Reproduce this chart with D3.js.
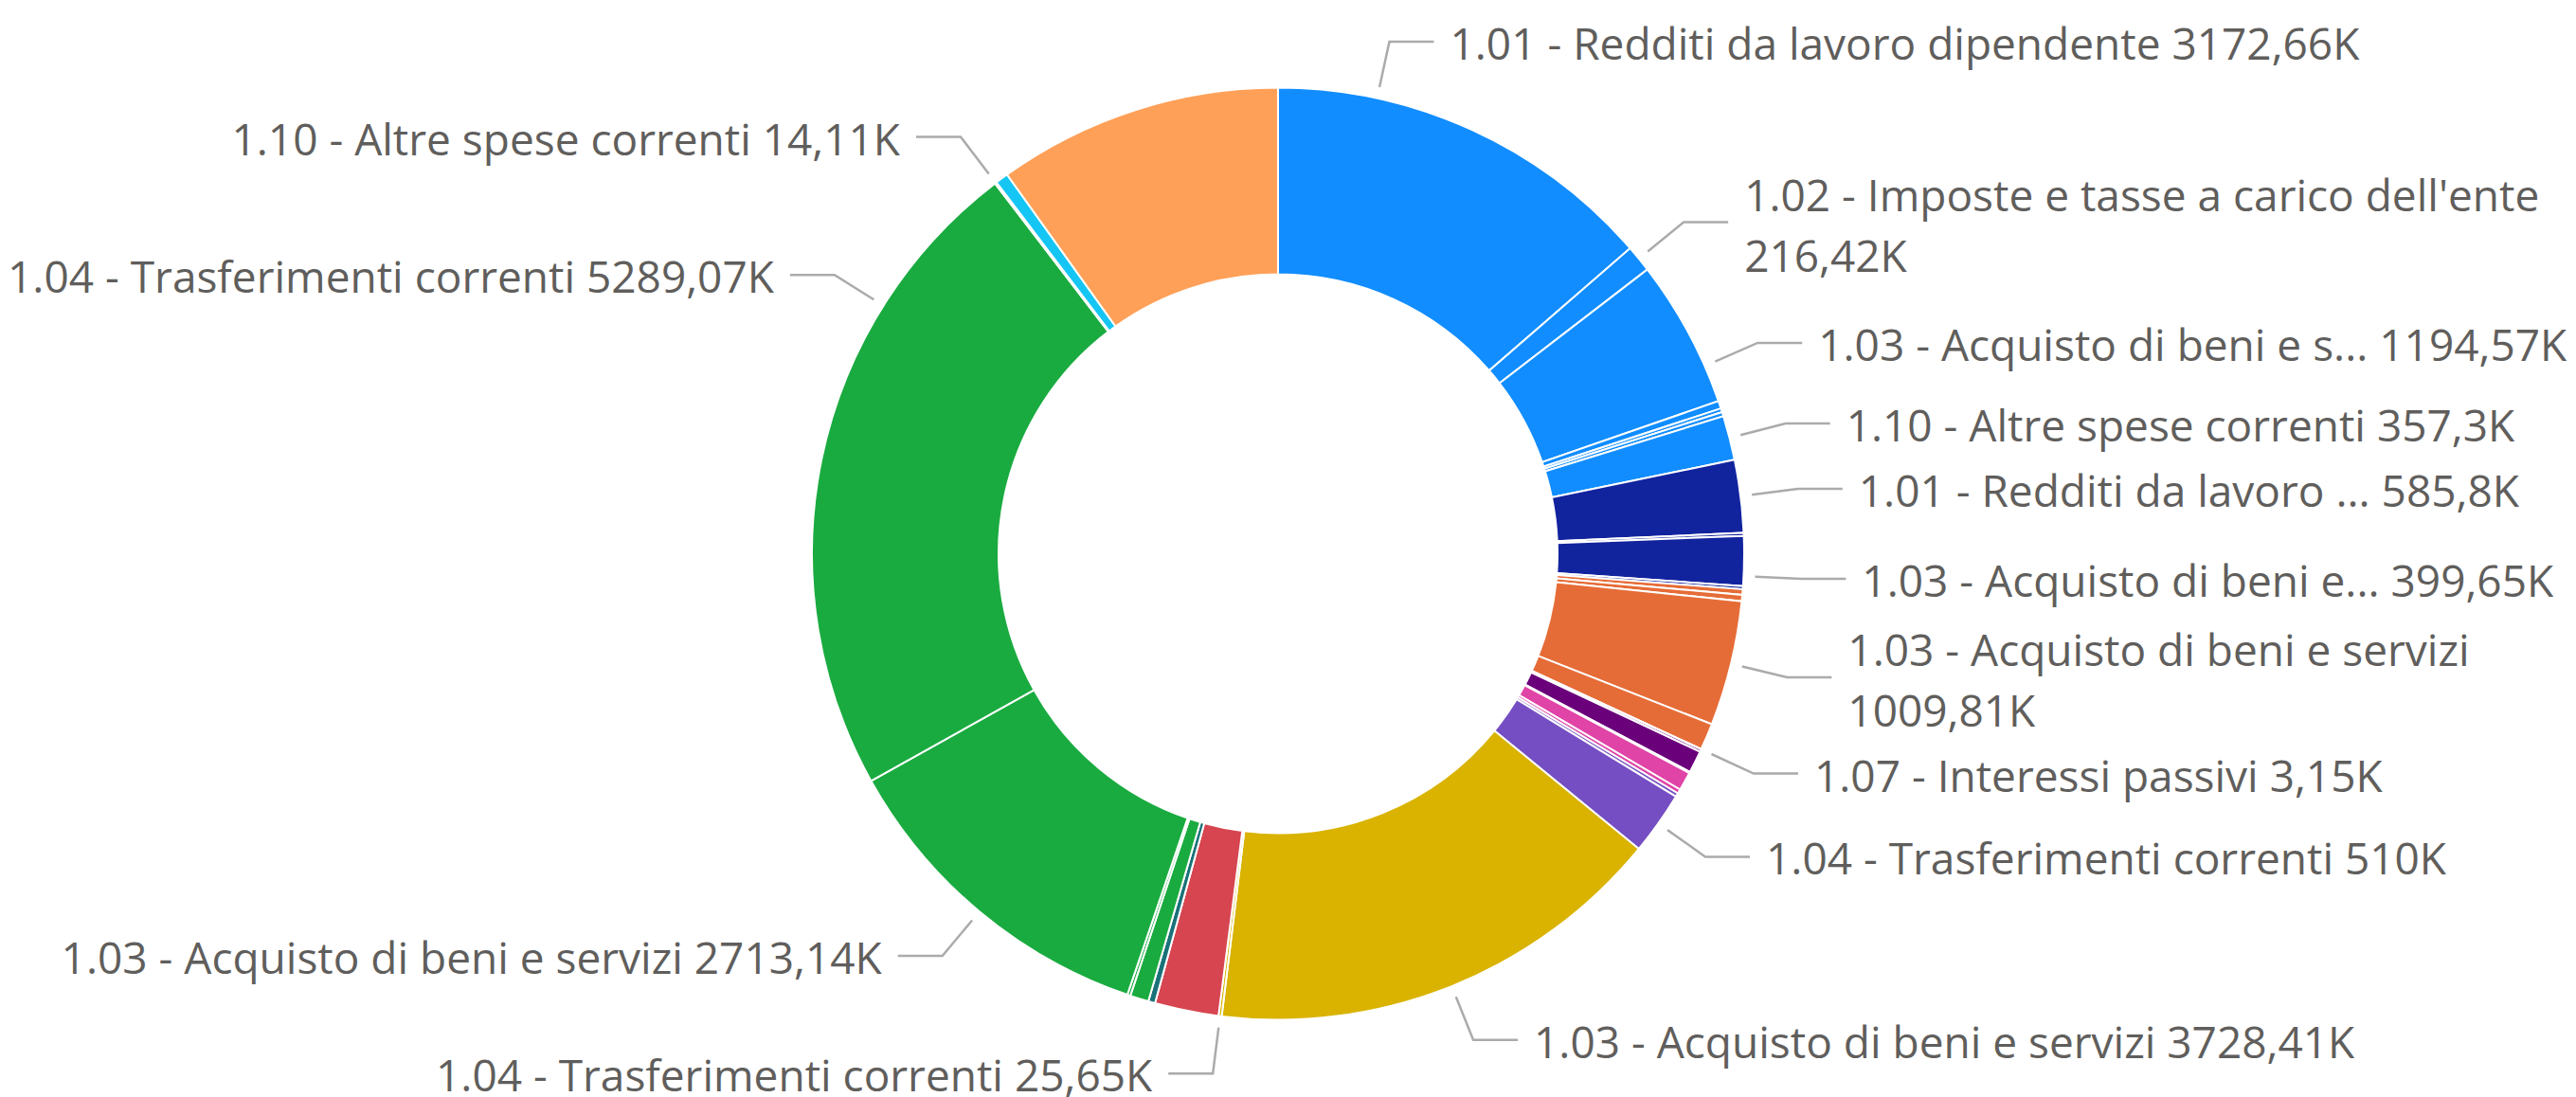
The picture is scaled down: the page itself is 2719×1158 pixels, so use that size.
<html>
<script src="https://cdn.jsdelivr.net/npm/d3@7"></script>
<style>
  body { margin: 0; background: white; }
  .lbl { font-family: "Open Sans", sans-serif; fill: #605E5C; }
  .leader { fill: none; stroke: #ABABAB; stroke-width: 2.5; }
</style>
<body>
<svg id="chart" width="2719" height="1158"></svg>
<script>
// slice values in K, in drawing order (clockwise from the top)
const values = [
  3172.66, 216.42, 1194.57, 62, 30, 35, 357.3,       // blue
  585.8, 25, 399.65, 25,                               // navy
  45, 50, 1009.81, 215, 3.15,                          // orange
  20, 180, 10,                                         // dark purple
  150, 35,                                             // pink
  30, 510,                                             // violet
  3728.41, 25.65,                                      // yellow
  515,                                                 // red
  55,                                                  // teal
  150, 25, 2713.14, 5289.07, 14.11,                    // green
  105,                                                 // cyan
  2299                                                 // light orange
];
// colour group of every slice
const groups = [
  0, 0, 0, 0, 0, 0, 0,
  1, 1, 1, 1,
  2, 2, 2, 2, 2,
  3, 3, 3,
  4, 4,
  5, 5,
  6, 6,
  7,
  8,
  9, 9, 9, 9, 9,
  10,
  11
];
const palette = ["#118DFF", "#12239E", "#E66C37", "#6B007B", "#E044A7", "#744EC2",
                 "#D9B300", "#D64550", "#197278", "#1AAB40", "#15C6F4", "#FFA058"];

// data labels: which slice, shown name, whether the value wraps to a 2nd line
const labelSlices = [0, 1, 2, 6, 7, 9, 13, 15, 22, 23, 24, 29, 30, 31];
const labelNames = [
  "1.01 - Redditi da lavoro dipendente",
  "1.02 - Imposte e tasse a carico dell'ente",
  "1.03 - Acquisto di beni e s...",
  "1.10 - Altre spese correnti",
  "1.01 - Redditi da lavoro ...",
  "1.03 - Acquisto di beni e...",
  "1.03 - Acquisto di beni e servizi",
  "1.07 - Interessi passivi",
  "1.04 - Trasferimenti correnti",
  "1.03 - Acquisto di beni e servizi",
  "1.04 - Trasferimenti correnti",
  "1.03 - Acquisto di beni e servizi",
  "1.04 - Trasferimenti correnti",
  "1.10 - Altre spese correnti"
];
const labelWrap = [false, true, false, false, false, false, true, false, false, false, false, false, false, false];
// where along its slice each leader line starts (0..1)
const labelAt = [0.25, 0.5, 0.75, 0.5, 0.5, 0.8, 0.5, 0.5, 0.5, 0.5, 0.5, 0.5, 0.75, 0.5];

const cx = 1349, cy = 584.5, rOut = 492, rIn = 295;
const fontSize = 46;

const it = d3.formatLocale({decimal: ",", thousands: ".", grouping: [3], currency: ["€", ""]});
const fmt = v => it.format(".2~f")(v) + "K";

const svg = d3.select("#chart");
const g = svg.append("g").attr("transform", `translate(${cx},${cy})`);

const pie = d3.pie().sort(null).value(d => d)(values);
const arc = d3.arc().innerRadius(rIn).outerRadius(rOut);

g.selectAll("path.slice")
  .data(pie)
  .enter()
  .append("path")
    .attr("class", "slice")
    .attr("d", arc)
    .attr("fill", (d, i) => palette[groups[i]])
    .attr("stroke", "white")
    .attr("stroke-width", 2);

// point on a circle of radius r at angle a (0 = top, clockwise)
const pt = (a, r) => [r * Math.sin(a), -r * Math.cos(a)];
const line = d3.line();

labelSlices.forEach((si, k) => {
  const s = pie[si];
  const a = s.startAngle + labelAt[k] * (s.endAngle - s.startAngle);
  const p0 = pt(a, rOut + 12);
  const p1 = pt(a, rOut + 61);
  const side = p1[0] >= 0 ? 1 : -1;
  const p2 = [p1[0] + side * 47, p1[1]];

  g.append("path").attr("class", "leader").attr("d", line([p0, p1, p2]));

  const tx = p1[0] + side * 64;
  const txt = g.append("text")
    .attr("class", "lbl")
    .attr("font-size", fontSize)
    .attr("text-anchor", side > 0 ? "start" : "end")
    .attr("x", tx);

  if (labelWrap[k]) {
    txt.append("tspan").attr("x", tx).attr("y", p1[1] - 12).text(labelNames[k]);
    txt.append("tspan").attr("x", tx).attr("y", p1[1] + 52).text(fmt(values[si]));
  } else {
    txt.attr("y", p1[1] + 19).text(labelNames[k] + " " + fmt(values[si]));
  }
});
</script>
</body>
</html>
